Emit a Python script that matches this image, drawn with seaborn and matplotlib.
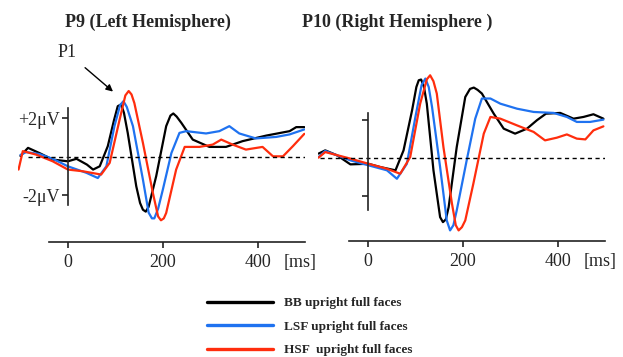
import numpy as np
import pandas as pd
import matplotlib
matplotlib.use("Agg")
import matplotlib.pyplot as plt
import seaborn as sns

sns.set_style("white")
plt.rcParams['font.family'] = ['Liberation Serif', 'DejaVu Serif']

# --- ERP traces (time in ms, amplitude in microvolts) ---
conditions = ["BB upright full faces", "LSF upright full faces", "HSF  upright full faces"]
colors = ["#000000", "#1f72f0", "#ff2d0d"]

# P9 (left hemisphere)
p9_bb_t = [-100, -84, -60, -32, 0, 18, 40, 53, 67, 84, 97, 105, 112, 118, 126, 144, 152, 158, 164, 170,
           186, 207, 216, 222, 229, 239, 263, 298, 333, 368, 418, 467, 481, 498]
p9_bb_v = [0.05, 0.47, 0.2, -0.14, -0.23, -0.1, -0.4, -0.66, -0.49, 0.56, 1.9, 2.64, 2.73, 2.3, 1.25, -1.53, -2.4, -2.75, -2.85, -2.6,
           -1.0, 1.6, 2.15, 2.26, 2.1, 1.77, 0.9, 0.52, 0.52, 0.82, 1.11, 1.34, 1.55, 1.55]
p9_lsf_t = [-100, -88, -60, -32, 0, 39, 63, 81, 98, 110, 117, 124, 137, 158, 170, 177, 182, 190, 200, 218,
            235, 249, 291, 319, 340, 361, 396, 439, 467, 498]
p9_lsf_v = [0.1, 0.25, 0.15, -0.1, -0.49, -0.83, -1.1, -0.49, 1.6, 2.7, 2.9, 2.6, 1.6, -1.18, -2.9, -3.2, -3.2, -2.7, -1.7, 0.2,
            1.25, 1.34, 1.22, 1.34, 1.6, 1.22, 0.96, 1.04, 1.17, 1.43]
p9_hsf_t = [-104, -95, -67, -32, 0, 32, 70, 88, 109, 121, 128, 134, 140, 158, 179, 190, 196, 202, 207, 228,
            246, 277, 305, 323, 347, 375, 410, 432, 453, 474, 498]
p9_hsf_v = [-0.66, 0.3, 0.12, -0.23, -0.66, -0.75, -0.92, -0.31, 1.95, 3.2, 3.43, 3.25, 2.8, 0.73, -1.88, -3.1, -3.3, -3.2, -2.92, -0.66,
            0.52, 0.52, 0.64, 0.9, 0.64, 0.38, 0.52, 0.03, 0.03, 0.56, 1.2]

# P10 (right hemisphere)
p10_bb_t = [-104, -90, -65, -37, 1, 26, 58, 75, 93, 102, 107, 112, 118, 124, 138, 152, 158, 164, 170, 187,
            205, 215, 223, 231, 240, 265, 286, 310, 335, 356, 375, 405, 433, 454, 475, 496]
p10_bb_v = [0.23, 0.4, 0.14, -0.33, -0.3, -0.47, -0.64, 0.4, 2.49, 3.7, 4.05, 4.09, 3.7, 2.83, -0.64, -3.08, -3.34, -3.2, -2.56, 0.57,
            3.18, 3.6, 3.67, 3.55, 3.36, 2.31, 1.53, 1.27, 1.53, 1.97, 2.31, 2.35, 2.05, 2.14, 2.28, 2.05]
p10_lsf_t = [-104, -90, -37, 1, 40, 61, 82, 100, 113, 121, 128, 135, 152, 166, 173, 180, 187, 208, 226, 240,
             258, 279, 314, 349, 391, 419, 440, 468, 496]
p10_lsf_v = [0.05, 0.37, -0.12, -0.38, -0.64, -1.08, -0.3, 2.14, 3.8, 4.14, 3.7, 2.66, -0.47, -3.25, -3.77, -3.5, -2.73, -0.12, 2.05, 3.1,
             3.1, 2.83, 2.57, 2.4, 2.35, 2.14, 1.88, 1.88, 2.0]
p10_hsf_t = [-104, -90, -37, 1, 40, 68, 89, 110, 124, 131, 138, 145, 159, 177, 185, 191, 198, 205, 222, 244,
             258, 279, 314, 349, 373, 398, 419, 440, 458, 475, 496]
p10_hsf_v = [0.02, 0.31, -0.03, -0.3, -0.56, -0.82, 0.05, 2.83, 4.1, 4.31, 4.0, 3.36, 0.57, -2.38, -3.5, -3.77, -3.6, -3.25, -1.34, 1.27,
             2.14, 2.05, 1.7, 1.36, 0.92, 1.06, 1.23, 1.01, 0.97, 1.44, 1.65]

x_ticks = [0, 200, 400]
y_ticks = [-2, 2]
y_ticklabels = ["-2\u03bcV", "+2\u03bcV"]


def make_df(series):
    frames = []
    for cond, (t, v) in zip(conditions, series):
        frames.append(pd.DataFrame({"time": t, "amp": v, "condition": cond}))
    return pd.concat(frames, ignore_index=True)


df_p9 = make_df([(p9_bb_t, p9_bb_v), (p9_lsf_t, p9_lsf_v), (p9_hsf_t, p9_hsf_v)])
df_p10 = make_df([(p10_bb_t, p10_bb_v), (p10_lsf_t, p10_lsf_v), (p10_hsf_t, p10_hsf_v)])
palette = dict(zip(conditions, colors))

fig = plt.figure(figsize=(6.23, 3.57), dpi=100)
ax1 = fig.add_axes([0.029, 0.313, 0.461, 0.452])
ax2 = fig.add_axes([0.5106, 0.310, 0.461, 0.4947])

panels = [
    (ax1, df_p9, (-4.6, 3.8), -4.43, (-2.5, 2.55), -85),
    (ax2, df_p10, (-4.6, 4.6), -4.32, (-2.7, 2.33), -100),
]

for ax, df, ylim, xaxis_y, vbounds, dash_start in panels:
    sns.lineplot(data=df, x="time", y="amp", hue="condition", palette=palette,
                 estimator=None, sort=True, linewidth=1.6, legend=False, ax=ax)
    ax.hlines(0, dash_start, 500, colors="black", linestyles=(0, (3, 2.5)), linewidth=1.0)
    ax.set_xlim(-105, 500)
    ax.set_ylim(*ylim)
    ax.set_xlabel("")
    ax.set_ylabel("")
    ax.patch.set_alpha(0)
    for s in ["top", "right"]:
        ax.spines[s].set_visible(False)
    ax.spines["left"].set_position(("data", 0))
    ax.spines["left"].set_bounds(*vbounds)
    ax.spines["bottom"].set_position(("data", xaxis_y))
    ax.spines["bottom"].set_bounds(-40, 500)
    for s in ["left", "bottom"]:
        ax.spines[s].set_linewidth(1.2)
        ax.spines[s].set_color("#222222")
    ax.set_xticks(x_ticks)
    ax.set_xticklabels([str(t) for t in x_ticks], fontsize=13)
    ax.set_yticks(y_ticks)
    ax.tick_params(axis="both", direction="out", length=4, width=1.2, color="#222222",
                   left=True, bottom=True, pad=5)
    # unit label sits on the same line as the tick labels
    ax.annotate("[ms]", xy=(489, xaxis_y), xytext=(0, -9), textcoords="offset points",
                fontsize=13, ha="center", va="top", annotation_clip=False)

ax1.set_yticklabels(y_ticklabels, fontsize=13)
ax1.tick_params(axis="y", pad=2)
ax2.set_yticklabels(["", ""])

# P1 annotation
ax1.annotate("P1", xy=(95, 3.4), xytext=(-2, 5.45), fontsize=13, ha="center", va="center",
             annotation_clip=False,
             arrowprops=dict(arrowstyle="-|>", color="black", lw=1.0, shrinkA=5, shrinkB=0,
                             mutation_scale=10))

fig.text(148 / 623, 1 - 22 / 357, "P9 (Left Hemisphere)", fontsize=13, fontweight="bold",
         ha="center", va="center")
fig.text(397 / 623, 1 - 22 / 357, "P10 (Right Hemisphere )", fontsize=13, fontweight="bold",
         ha="center", va="center")

handles = [plt.Line2D([], [], color=c, linewidth=2.4) for c in colors]
fig.legend(handles, conditions, loc="upper left", bbox_to_anchor=(207 / 623, 1 - 297 / 357),
           frameon=False, borderpad=0, borderaxespad=0, handlelength=5.0, handletextpad=0.8,
           labelspacing=0.85, prop={"weight": "bold", "size": 9.5})

fig.savefig("out.png", dpi=100)
